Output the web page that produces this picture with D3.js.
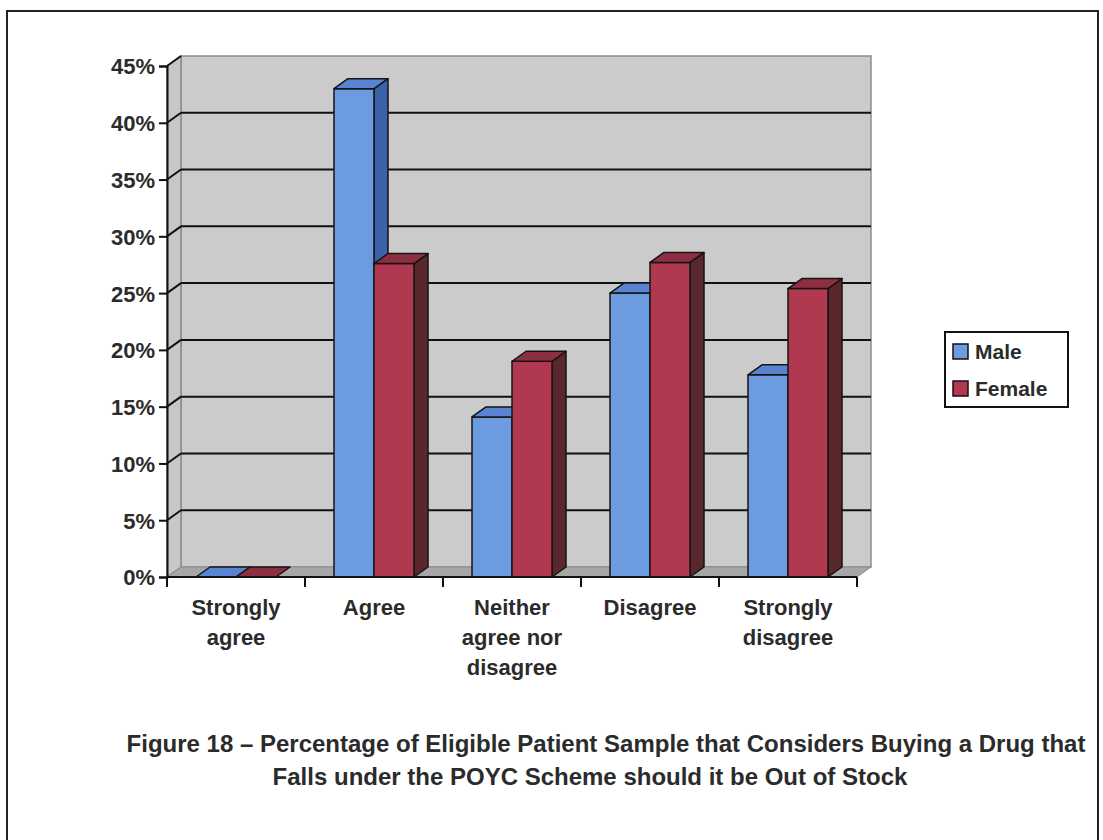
<!DOCTYPE html>
<html>
<head>
<meta charset="utf-8">
<script src="https://cdn.jsdelivr.net/npm/d3@7"></script>
<style>
  html, body { margin: 0; padding: 0; background: #ffffff; }
  svg { display: block; }
  text { font-family: "Liberation Sans", Arial, Helvetica, sans-serif; font-weight: bold; fill: #2b2b2b; }
</style>
</head>
<body>
<svg id="chart" width="1103" height="840"></svg>
<script>
// Survey responses: share of male / female respondents per answer
const categories = [
  ["Strongly", "agree"],
  ["Agree"],
  ["Neither", "agree nor", "disagree"],
  ["Disagree"],
  ["Strongly", "disagree"]
];
const seriesNames = ["Male", "Female"];
const maleValues   = [0, 43.0, 14.1, 25.0, 17.8];
const femaleValues = [0, 27.6, 19.0, 27.7, 25.4];
const yTicks = [0, 5, 10, 15, 20, 25, 30, 35, 40, 45];
const captionLines = [
  "Figure 18 \u2013 Percentage of Eligible Patient Sample that Considers Buying a Drug that",
  "Falls under the POYC Scheme should it be Out of Stock"
];

const palette = {
  Male:   { front: "#6d9be0", top: "#5884d2", side: "#3c63aa" },
  Female: { front: "#b0384f", top: "#8e2f41", side: "#5a272d" }
};

const svg = d3.select("#chart");

// Frame around the figure
svg.append("rect")
  .attr("x", 7).attr("y", 11).attr("width", 1091).attr("height", 860)
  .attr("fill", "none").attr("stroke", "#222").attr("stroke-width", 2);

// Plot geometry: front plane and depth offset of the 3-D box
const plotLeft = 167, plotRight = 857, plotBottom = 577, plotTop = 66;
const depth = { dx: 14, dy: -10 };

const x = d3.scaleBand()
  .domain(d3.range(categories.length))
  .range([plotLeft, plotRight])
  .paddingInner(0).paddingOuter(0);
const y = d3.scaleLinear().domain([0, 45]).range([plotBottom, plotTop]);

const plot = svg.append("g");

// Back wall
plot.append("rect")
  .attr("x", plotLeft + depth.dx).attr("y", plotTop + depth.dy)
  .attr("width", plotRight - plotLeft).attr("height", plotBottom - plotTop)
  .attr("fill", "#cbcbcb").attr("stroke", "#8c8c8c").attr("stroke-width", 1.5);

// Side wall
plot.append("path")
  .attr("d", d3.line()([[plotLeft, plotTop], [plotLeft + depth.dx, plotTop + depth.dy],
                        [plotLeft + depth.dx, plotBottom + depth.dy], [plotLeft, plotBottom]]) + "Z")
  .attr("fill", "#c7c7c7").attr("stroke", "#8c8c8c").attr("stroke-width", 1.5);

// Floor
plot.append("path")
  .attr("d", d3.line()([[plotLeft, plotBottom], [plotRight, plotBottom],
                        [plotRight + depth.dx, plotBottom + depth.dy],
                        [plotLeft + depth.dx, plotBottom + depth.dy]]) + "Z")
  .attr("fill", "#a6a6a6").attr("stroke", "#8c8c8c").attr("stroke-width", 1);

// Gridlines on the back wall, with the slanted link on the side wall
const grid = plot.append("g");
yTicks.filter(t => t > 0 && t < 45).forEach(t => {
  grid.append("line")
    .attr("x1", plotLeft + depth.dx).attr("x2", plotRight + depth.dx)
    .attr("y1", y(t) + depth.dy).attr("y2", y(t) + depth.dy)
    .attr("stroke", "#111").attr("stroke-width", 2);
});
yTicks.filter(t => t > 0).forEach(t => {
  grid.append("line")
    .attr("x1", plotLeft).attr("y1", y(t))
    .attr("x2", plotLeft + depth.dx).attr("y2", y(t) + depth.dy)
    .attr("stroke", "#111").attr("stroke-width", 2);
});

// Bars
const barW = 40;
const series = [
  { name: "Male", values: maleValues, offset: -barW },
  { name: "Female", values: femaleValues, offset: 0 }
];
const bars = plot.append("g");
categories.forEach((c, i) => {
  const cx = x(i) + x.bandwidth() / 2;
  series.forEach(s => {
    const v = s.values[i];
    const x0 = cx + s.offset, x1 = x0 + barW;
    const yt = y(v), yb = y(0);
    const col = palette[s.name];
    const g = bars.append("g")
      .attr("stroke", "#141414").attr("stroke-width", 1.5).attr("stroke-linejoin", "round");
    if (v > 0) {
      g.append("path")
        .attr("d", d3.line()([[x1, yb], [x1 + depth.dx, yb + depth.dy],
                              [x1 + depth.dx, yt + depth.dy], [x1, yt]]) + "Z")
        .attr("fill", col.side);
      g.append("rect")
        .attr("x", x0).attr("y", yt).attr("width", barW).attr("height", yb - yt)
        .attr("fill", col.front);
    }
    g.append("path")
      .attr("d", d3.line()([[x0, yt], [x1, yt],
                            [x1 + depth.dx, yt + depth.dy], [x0 + depth.dx, yt + depth.dy]]) + "Z")
      .attr("fill", col.top);
  });
});

// Y axis
const yAxis = svg.append("g").attr("transform", `translate(${plotLeft},0)`)
  .call(d3.axisLeft(y).tickValues(yTicks).tickSize(8).tickPadding(4)
        .tickFormat(d => d + "%"));
yAxis.select(".domain").attr("stroke", "#111").attr("stroke-width", 2);
yAxis.selectAll(".tick line").attr("stroke", "#111").attr("stroke-width", 2);
yAxis.selectAll(".tick text")
  .attr("font-size", 22).attr("fill", "#2b2b2b").attr("dy", "0.36em")
  .style("font-family", "'Liberation Sans', Arial, sans-serif").style("font-weight", "bold");

// X axis: front baseline with ticks at category boundaries
const xAxisG = svg.append("g");
xAxisG.append("line")
  .attr("x1", plotLeft).attr("x2", plotRight).attr("y1", plotBottom).attr("y2", plotBottom)
  .attr("stroke", "#111").attr("stroke-width", 2);
d3.range(categories.length + 1).forEach(i => {
  const xx = i < categories.length ? x(i) : plotRight;
  xAxisG.append("line")
    .attr("x1", xx).attr("x2", xx).attr("y1", plotBottom).attr("y2", plotBottom + 10)
    .attr("stroke", "#111").attr("stroke-width", 2);
});
categories.forEach((lines, i) => {
  const t = xAxisG.append("text")
    .attr("text-anchor", "middle").attr("font-size", 22);
  lines.forEach((ln, k) => {
    t.append("tspan")
      .attr("x", x(i) + x.bandwidth() / 2)
      .attr("y", 615 + k * 30)
      .text(ln);
  });
});

// Legend
const legend = svg.append("g");
legend.append("rect")
  .attr("x", 945).attr("y", 332).attr("width", 123).attr("height", 75)
  .attr("fill", "#fff").attr("stroke", "#111").attr("stroke-width", 2);
seriesNames.forEach((n, k) => {
  legend.append("rect")
    .attr("x", 953).attr("y", 344 + k * 37).attr("width", 15).attr("height", 15)
    .attr("fill", palette[n].front).attr("stroke", "#111").attr("stroke-width", 1.5);
  legend.append("text")
    .attr("x", 975).attr("y", 359 + k * 37)
    .attr("font-size", 21).text(n);
});

// Caption
svg.append("text").attr("text-anchor", "middle").attr("font-size", 24)
  .selectAll("tspan").data(captionLines).join("tspan")
  .attr("x", (d, k) => k === 0 ? 606 : 590)
  .attr("y", (d, k) => 752 + k * 33)
  .text(d => d);
</script>
</body>
</html>
